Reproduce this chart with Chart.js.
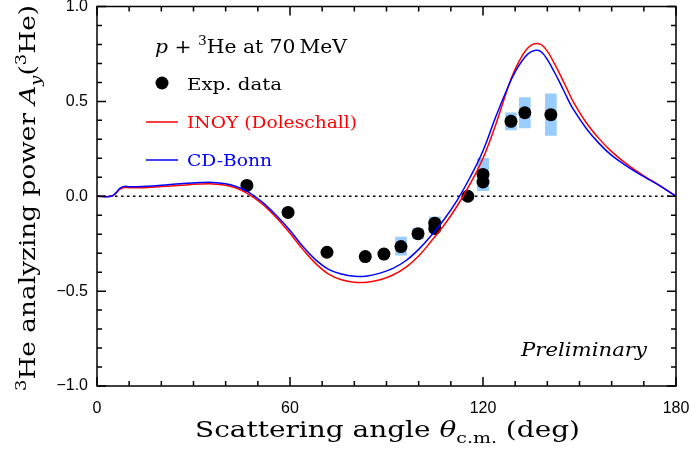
<!DOCTYPE html>
<html>
<head>
<meta charset="utf-8">
<script src="https://cdn.jsdelivr.net/npm/chart.js@4.4.1/dist/chart.umd.min.js"></script>
<style>
  html, body { margin: 0; padding: 0; background: #fff; }
  #chart { display: block; }
</style>
</head>
<body>
<canvas id="chart" width="691" height="455"></canvas>
<script>
// theory curves (angle in deg, Ay)
const curveAngle = [0, 4.5, 6, 7, 8.5, 10, 14, 20, 26, 32, 36, 40, 43, 46, 49, 52, 56, 60, 64, 68, 72, 76, 80, 84, 88, 92, 96, 100, 104, 108, 112, 116, 120, 124, 128, 130, 132, 134, 136, 138, 140, 142, 144, 146, 148, 152, 156, 160, 165, 170, 175, 180];
const ayCdBonn = [0, 0, 0.02, 0.04, 0.052, 0.05, 0.051, 0.058, 0.066, 0.072, 0.073, 0.066, 0.053, 0.032, 0.0, -0.04, -0.105, -0.18, -0.265, -0.335, -0.385, -0.41, -0.422, -0.42, -0.405, -0.38, -0.34, -0.28, -0.205, -0.12, -0.02, 0.1, 0.24, 0.42, 0.585, 0.655, 0.71, 0.75, 0.768, 0.762, 0.72, 0.66, 0.595, 0.525, 0.46, 0.36, 0.28, 0.215, 0.155, 0.103, 0.055, 0];
const ayInoy = [0, 0, 0.018, 0.036, 0.046, 0.045, 0.045, 0.051, 0.058, 0.064, 0.065, 0.058, 0.044, 0.022, -0.01, -0.05, -0.117, -0.195, -0.28, -0.355, -0.41, -0.44, -0.453, -0.453, -0.44, -0.415, -0.375, -0.315, -0.235, -0.15, -0.05, 0.065, 0.2, 0.38, 0.585, 0.67, 0.735, 0.783, 0.804, 0.8, 0.765, 0.705, 0.64, 0.57, 0.5, 0.39, 0.305, 0.235, 0.165, 0.108, 0.056, 0];

// experimental points and their error ranges
const expAngle = [46.6, 59.4, 71.5, 83.4, 89.2, 94.5, 99.8, 105, 105, 115.3, 120, 120, 128.7, 133, 141.1];
const expAy = [0.057, -0.085, -0.295, -0.318, -0.305, -0.265, -0.197, -0.142, -0.17, 0.0, 0.075, 0.115, 0.395, 0.44, 0.43];
const errLow = [0.04, -0.1, -0.305, -0.325, -0.32, -0.31, -0.225, -0.19, -0.19, -0.012, 0.03, 0.03, 0.35, 0.36, 0.32];
const errHigh = [0.075, -0.07, -0.28, -0.31, -0.29, -0.215, -0.17, -0.11, -0.11, 0.012, 0.2, 0.2, 0.44, 0.52, 0.54];

const xMajor = 60;
const serif = '"DejaVu Serif", serif';

function fmtY(v) {
    const r = Math.round(v * 10) / 10;
    if (r === 0) return "0.0";
    return (r < 0 ? "\u2212" : "") + Math.abs(r).toFixed(1);
}

// rich text: parts = [{t, sup, sub, it}], fitted to width w
function drawRich(ctx, parts, x, y, size, w, color, align) {
    const fontOf = (p) => (p.it ? "italic " : "") + ((p.sup || p.sub) ? size * 0.68 : size) + "px " + serif;
    let total = 0;
    const widths = parts.map((p) => { ctx.font = fontOf(p); const m = ctx.measureText(p.t).width; total += m; return m; });
    const s = w ? w / total : 1;
    ctx.save();
    ctx.translate(x, y);
    ctx.scale(s, 1);
    let cx = align === "center" ? -total / 2 : 0;
    ctx.fillStyle = color || "#000";
    ctx.textBaseline = "alphabetic";
    ctx.textAlign = "left";
    parts.forEach((p, i) => {
        ctx.font = fontOf(p);
        let dy = 0;
        if (p.sup) dy = -size * 0.42;
        if (p.sub) dy = size * 0.28;
        ctx.fillText(p.t, cx, dy);
        cx += widths[i];
    });
    ctx.restore();
}

const framePlugin = {
    id: "frame",
    afterDatasetsDraw(chart) {
        const { ctx, chartArea: a, scales: { x, y } } = chart;
        ctx.save();
        ctx.strokeStyle = "#000";
        ctx.lineWidth = 1.5;
        ctx.beginPath();
        x.ticks.forEach((t) => {
            const px = x.getPixelForValue(t.value);
            const len = t.value % xMajor === 0 ? 9 : 5;
            ctx.moveTo(px, a.bottom); ctx.lineTo(px, a.bottom - len);
            ctx.moveTo(px, a.top); ctx.lineTo(px, a.top + len);
        });
        y.ticks.forEach((t) => {
            const py = y.getPixelForValue(t.value);
            const len = Math.round(t.value * 10) % 5 === 0 ? 9 : 5;
            ctx.moveTo(a.left, py); ctx.lineTo(a.left + len, py);
            ctx.moveTo(a.right, py); ctx.lineTo(a.right - len, py);
        });
        ctx.stroke();
        ctx.strokeRect(a.left, a.top, a.width, a.height);
        ctx.restore();
    },
    afterDraw(chart) {
        const ctx = chart.ctx;
        // axis titles
        drawRich(ctx, [{ t: "Scattering angle " }, { t: "\u03b8", it: true }, { t: "c.m.", sub: true }, { t: " (deg)" }], 195, 437, 21.5, 385);
        ctx.save();
        ctx.translate(35, 198);
        ctx.rotate(-Math.PI / 2);
        drawRich(ctx, [{ t: "3", sup: true }, { t: "He analyzing power " }, { t: "A", it: true }, { t: "y", it: true, sub: true }, { t: "(" }, { t: "3", sup: true }, { t: "He)" }], 0, 0, 22, 386, "#000", "center");
        ctx.restore();

        // legend block
        drawRich(ctx, [{ t: "p", it: true }, { t: " + " }, { t: "3", sup: true }, { t: "He at 70\u2009MeV" }], 155, 53, 19, 192);
        ctx.save();
        ctx.fillStyle = "#000";
        ctx.beginPath();
        ctx.arc(162, 83, 6.5, 0, Math.PI * 2);
        ctx.fill();
        ctx.lineWidth = 1.5;
        ctx.strokeStyle = "#ff0000";
        ctx.beginPath(); ctx.moveTo(146, 122); ctx.lineTo(178, 122); ctx.stroke();
        ctx.strokeStyle = "#0000ff";
        ctx.beginPath(); ctx.moveTo(146, 160); ctx.lineTo(178, 160); ctx.stroke();
        ctx.restore();
        drawRich(ctx, [{ t: "Exp. data" }], 187, 90, 17.5, 95);
        drawRich(ctx, [{ t: "INOY (Doleschall)" }], 187, 128, 17.5, 170, "#ff0000");
        drawRich(ctx, [{ t: "CD-Bonn" }], 187, 166, 17.5, 85, "#0000ff");
        drawRich(ctx, [{ t: "Preliminary", it: true }], 521, 356, 19, 126);
    }
};

new Chart(document.getElementById("chart"), {
    type: "scatter",
    data: {
        datasets: [
            {
                type: "line", label: "CD-Bonn",
                data: curveAngle.map((x, i) => ({ x, y: ayCdBonn[i] })),
                borderColor: "#0000ff", borderWidth: 1.5, pointRadius: 0,
                tension: 0.4, order: 0
            },
            {
                type: "line", label: "INOY (Doleschall)",
                data: curveAngle.map((x, i) => ({ x, y: ayInoy[i] })),
                borderColor: "#ff0000", borderWidth: 1.5, pointRadius: 0,
                tension: 0.4, order: 1
            },
            {
                type: "scatter", label: "Exp. data",
                data: expAngle.map((x, i) => ({ x, y: expAy[i] })),
                backgroundColor: "#000", borderColor: "#000", borderWidth: 0,
                pointRadius: 6.5, order: 2
            },
            {
                type: "bar", label: "errors",
                data: expAngle.map((x, i) => ({ x, y: [errLow[i], errHigh[i]] })),
                backgroundColor: "#99ccff", borderWidth: 0, barThickness: 11, order: 3
            },
            {
                type: "line", label: "zero",
                data: [{ x: 0, y: 0 }, { x: 180, y: 0 }],
                borderColor: "#000", borderWidth: 1.5, borderDash: [2.5, 3.5], pointRadius: 0, order: 4
            }
        ]
    },
    options: {
        responsive: false,
        animation: false,
        devicePixelRatio: 1,
        layout: { padding: { top: 6, right: 15, left: 0, bottom: 0 } },
        plugins: { legend: { display: false }, tooltip: { enabled: false } },
        scales: {
            x: {
                type: "linear", min: 0, max: 180, offset: false,
                grid: { display: false, drawTicks: false }, border: { display: false },
                ticks: {
                    stepSize: 10, autoSkip: false, maxRotation: 0, padding: 13, color: "#000",
                    font: { family: '"Liberation Sans", sans-serif', size: 16 },
                    callback: (v) => (v % xMajor === 0 ? String(v) : "")
                },
                afterFit: (s) => { s.height = 69; s.paddingLeft = 0; s.paddingRight = 0; }
            },
            y: {
                type: "linear", min: -1, max: 1,
                grid: { display: false, drawTicks: false }, border: { display: false },
                ticks: {
                    stepSize: 0.1, autoSkip: false, padding: 9, color: "#000",
                    font: { family: '"Liberation Sans", sans-serif', size: 16 },
                    callback: (v) => (Math.round(v * 10) % 5 === 0 ? fmtY(v) : "")
                },
                afterFit: (s) => { s.width = 97; s.paddingTop = 0; s.paddingBottom = 0; }
            }
        }
    },
    plugins: [framePlugin]
});
</script>
</body>
</html>
